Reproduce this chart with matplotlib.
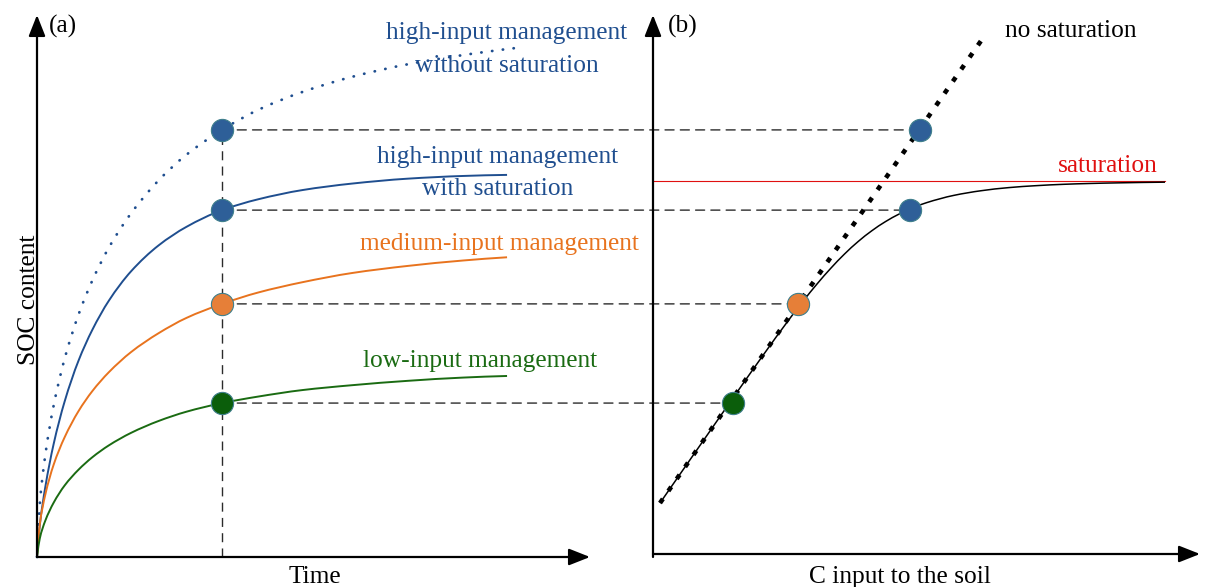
import matplotlib
matplotlib.use("Agg")
import matplotlib.pyplot as plt
from matplotlib.patches import ConnectionPatch, PathPatch
from matplotlib.path import Path

plt.rcParams["font.family"] = ["Liberation Serif", "DejaVu Serif"]

# ---- panel (a): SOC content over time for each management ----
time = [0, 0.5, 1.5, 3, 5, 7.5, 10, 13, 17, 22, 27, 33.45, 40, 48, 57, 67, 77, 85]
soc_low = [0, 3.4, 6.7, 10.0, 13.2, 16.1, 18.4, 20.6, 22.9, 25.1, 26.8, 28.4,
           29.6, 30.8, 31.7, 32.5, 33.1, 33.4]
soc_medium = [0, 6.0, 11.5, 17.0, 22.1, 26.9, 30.6, 34.1, 37.8, 41.3, 44.1, 46.7,
              48.8, 50.7, 52.4, 53.7, 54.7, 55.3]
soc_high_sat = [0, 5.8, 12.9, 20.8, 28.7, 36.2, 41.9, 47.3, 52.7, 57.5, 60.9, 64.0,
                66.0, 67.7, 68.9, 69.8, 70.3, 70.5]
time_nosat = [0, 0.5, 1.5, 3, 5, 7.5, 10, 13, 17, 22, 27, 33.45, 40, 48, 57, 67, 77, 86.5]
soc_high_nosat = [0, 9.7, 18.8, 27.9, 36.6, 44.7, 51.0, 57.1, 63.4, 69.5, 74.2, 78.8,
                  82.5, 85.8, 88.6, 90.9, 92.6, 93.9]

# observation time and the SOC reached by each management at that time
t_obs = 33.45
marker_soc = [78.8, 64.0, 46.7, 28.4]        # no-sat high, sat high, medium, low
# ---- panel (b): SOC against C input ----
marker_cin = [48.8, 47.0, 26.5, 14.6]

cin_linear = [1.28, 60.7]
soc_linear = [9.96, 96.3]

cin_sat = [1.28, 5, 10, 15, 20, 25, 27.5, 30, 32.5, 35, 37.5, 40, 42.5, 45, 47.5,
           50, 55, 60, 65, 70, 75, 80, 85, 93.6]
soc_sat = [9.96, 15.37, 22.63, 29.88, 37.05, 43.99, 47.28, 50.39, 53.27, 55.89,
           58.20, 60.19, 61.88, 63.28, 64.44, 65.37, 66.72, 67.58, 68.15, 68.51,
           68.76, 68.92, 69.03, 69.16]
saturation_level = 69.4
saturation_span = [0, 93.6]

# ---- styling ----
BLUE = "#1f4e8f"
BLUE_MK = "#2e5f98"
ORANGE = "#e8731e"
ORANGE_MK = "#e67f38"
GREEN = "#1a6b12"
GREEN_MK = "#0b5e0b"
RED = "#e01010"
DASH = "#2b2b2b"
MK_EDGE = "#3f7f8c"
marker_colors = [BLUE_MK, BLUE_MK, ORANGE_MK, GREEN_MK]


def smooth_curve(xs, ys):
    """Monotone cubic (Fritsch-Carlson) Bezier path through the given points."""
    n = len(xs)
    h = [xs[i + 1] - xs[i] for i in range(n - 1)]
    d = [(ys[i + 1] - ys[i]) / h[i] for i in range(n - 1)]
    m = [0.0] * n
    for i in range(1, n - 1):
        if d[i - 1] * d[i] <= 0:
            m[i] = 0.0
        else:
            w1 = 2 * h[i] + h[i - 1]
            w2 = h[i] + 2 * h[i - 1]
            m[i] = (w1 + w2) / (w1 / d[i - 1] + w2 / d[i])
    if n > 2:
        m[0] = ((2 * h[0] + h[1]) * d[0] - h[0] * d[1]) / (h[0] + h[1])
        if m[0] * d[0] <= 0:
            m[0] = 0.0
        m[-1] = ((2 * h[-1] + h[-2]) * d[-1] - h[-1] * d[-2]) / (h[-1] + h[-2])
        if m[-1] * d[-1] <= 0:
            m[-1] = 0.0
    else:
        m[0] = m[-1] = d[0]
    verts = [(xs[0], ys[0])]
    codes = [Path.MOVETO]
    for i in range(n - 1):
        verts += [(xs[i] + h[i] / 3, ys[i] + m[i] * h[i] / 3),
                  (xs[i + 1] - h[i] / 3, ys[i + 1] - m[i + 1] * h[i] / 3),
                  (xs[i + 1], ys[i + 1])]
        codes += [Path.CURVE4] * 3
    return Path(verts, codes)


def draw_curve(ax, xs, ys, **kw):
    patch = PathPatch(smooth_curve(xs, ys), fill=False, **kw)
    patch.set_clip_on(False)
    ax.add_patch(patch)
    return patch


W, H = 1207, 587
fig = plt.figure(figsize=(W / 100, H / 100), dpi=100)


def fx(x):
    return x / W


def fy(y):
    return 1 - y / H


ax_a = fig.add_axes([fx(37), fy(557), 553 / W, 542 / H])
ax_b = fig.add_axes([fx(653), fy(557), 547 / W, 542 / H])
for ax in (ax_a, ax_b):
    ax.set_xlim(0, 100)
    ax.set_ylim(0, 100)
    ax.set_axis_off()
# panel (b) is drawn first so the guides it holds pass under panel (a)'s markers
ax_b.set_zorder(0)
ax_a.set_zorder(1)

arrow_kw = dict(arrowstyle="-|>,head_length=0.43,head_width=0.17",
                mutation_scale=30, lw=1.6, color="black",
                shrinkA=0, shrinkB=0)


def axis_arrows(ax, base_y=0.0):
    ax.annotate("", xy=(1.0, base_y), xytext=(0, base_y),
                xycoords="axes fraction", textcoords="axes fraction",
                arrowprops=arrow_kw, annotation_clip=False)
    ax.annotate("", xy=(0, 1.0), xytext=(0, 0),
                xycoords="axes fraction", textcoords="axes fraction",
                arrowprops=arrow_kw, annotation_clip=False)


axis_arrows(ax_a)
axis_arrows(ax_b, base_y=3 / 542)

# curves in panel (a)
draw_curve(ax_a, time_nosat, soc_high_nosat, edgecolor=BLUE, lw=2.0,
           linestyle=(0, (0.1, 3.8)), capstyle="round")
draw_curve(ax_a, time, soc_high_sat, edgecolor=BLUE, lw=1.4)
draw_curve(ax_a, time, soc_medium, edgecolor=ORANGE, lw=1.4)
draw_curve(ax_a, time, soc_low, edgecolor=GREEN, lw=1.4)

# vertical guide at the observation time
ax_a.plot([t_obs, t_obs], [0, marker_soc[0]], color=DASH, lw=1.0,
          linestyle=(0, (6.5, 4.5)), zorder=1, clip_on=False)

# horizontal guides linking both panels
for soc, cin in zip(marker_soc, marker_cin):
    con = ConnectionPatch(xyA=(t_obs, soc), coordsA=ax_a.transData,
                          xyB=(cin, soc), coordsB=ax_b.transData,
                          color=DASH, lw=1.0, linestyle=(0, (6.5, 4.5)),
                          zorder=1)
    ax_b.add_artist(con)
    con.set_clip_on(False)

# panel (b) lines
ax_b.plot(saturation_span, [saturation_level, saturation_level], color=RED,
          lw=0.8, clip_on=False, zorder=2)
draw_curve(ax_b, cin_sat, soc_sat, edgecolor="black", lw=1.1, zorder=2)
ax_b.plot(cin_linear, soc_linear, color="black", lw=3.3,
          linestyle=(0, (1.1, 2.1)), dash_capstyle="butt", clip_on=False,
          zorder=3)

# markers
for soc, col in zip(marker_soc, marker_colors):
    ax_a.plot([t_obs], [soc], "o", ms=16, mfc=col, mec=MK_EDGE, mew=0.8,
              zorder=5, clip_on=False)
for soc, cin, col in zip(marker_soc, marker_cin, marker_colors):
    ax_b.plot([cin], [soc], "o", ms=16, mfc=col, mec=MK_EDGE, mew=0.8,
              zorder=5, clip_on=False)

# labels
FS = 18.3


def label(x, y, s, color="black", **kw):
    fig.text(fx(x), fy(y), s, color=color, fontsize=FS, ha="center",
             va="baseline", **kw)


label(63, 33, "(a)")
label(683, 33, "(b)")
label(506.5, 39, "high-input management", BLUE)
label(506.5, 71.5, "without saturation", BLUE)
label(498, 163, "high-input management", BLUE)
label(498, 195, "with saturation", BLUE)
label(499, 250, "medium-input management", ORANGE)
label(480.5, 367, "low-input management", GREEN)
label(1071, 37, "no saturation")
label(1108, 172.5, "saturation", RED)
label(315, 583, "Time")
label(900, 583, "C input to the soil")
fig.text(fx(35), fy(300), "SOC content", fontsize=FS, rotation=90,
         rotation_mode="anchor", ha="center", va="baseline")

fig.savefig("out.png", dpi=100)
